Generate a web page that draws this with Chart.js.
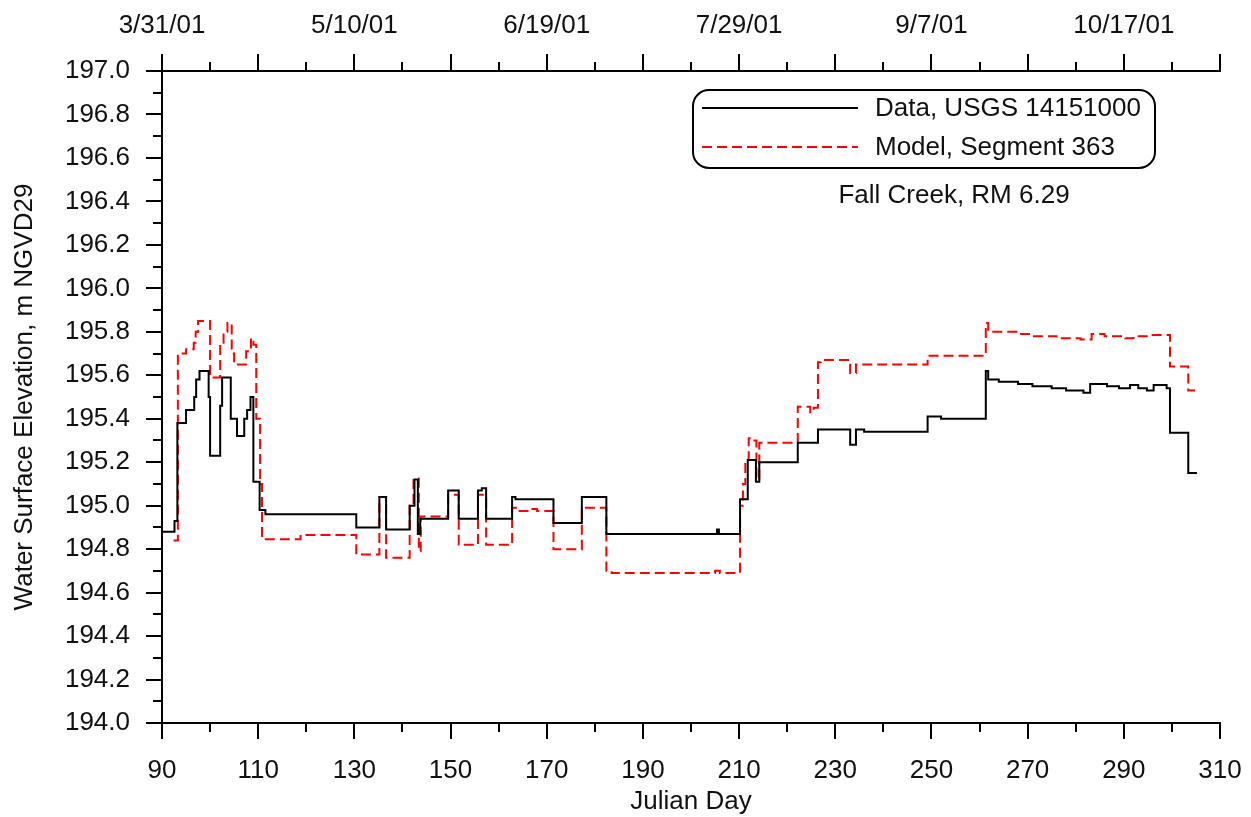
<!DOCTYPE html>
<html>
<head>
<meta charset="utf-8">
<script src="https://cdn.jsdelivr.net/npm/chart.js@4"></script>
<style>
  html, body { margin: 0; padding: 0; background: #fff; }
  #wrap { width: 1251px; height: 817px; }
</style>
</head>
<body>
<div id="wrap"><canvas id="c" width="1251" height="817"></canvas></div>
<script>
// ---------- DATA ----------
const dataDays = [90, 92.6, 93.2, 95.0, 96.7, 97.1, 97.8, 99.7, 100.0, 102.1, 102.5, 104.3, 105.6, 107.1, 107.7, 108.4, 109.0, 110.3, 111.5,
  130.4, 135.2, 136.6, 141.5, 142.5, 143.2, 143.7, 149.5, 151.7, 155.7, 156.5, 157.4, 162.8, 163.5, 171.4, 177.3, 182.4,
  205.4, 205.8, 210.2, 211.8, 213.5, 214.2, 222.2, 226.4, 233.1, 234.3, 236, 249.2, 252, 261.3, 261.8, 264, 268, 271, 275, 278,
  281.6, 283, 286.5, 289, 291.3, 293, 294.8, 296.2, 298.9, 299.6, 303.4, 305.2];
const dataElev = [194.88, 194.93, 195.38, 195.44, 195.50, 195.58, 195.62, 195.50, 195.23, 195.46, 195.59, 195.40, 195.32, 195.40, 195.44, 195.50, 195.11, 194.98, 194.96,
  194.90, 195.04, 194.89, 195.00, 195.12, 194.87, 194.94, 195.07, 194.94, 195.07, 195.08, 194.94, 195.04, 195.03, 194.92, 195.04, 194.87,
  194.89, 194.87, 195.03, 195.21, 195.11, 195.20, 195.29, 195.35, 195.28, 195.35, 195.34, 195.41, 195.40, 195.62, 195.58, 195.57, 195.56, 195.55, 195.54, 195.53,
  195.52, 195.56, 195.55, 195.54, 195.555, 195.54, 195.53, 195.555, 195.54, 195.335, 195.15, 195.15];

const modelDays = [92.4, 93.3, 95.0, 96.6, 97.0, 97.5, 99.7, 100.0, 102.1, 102.8, 103.6, 104.5, 105.0, 107.5, 108.5, 109.0, 109.6, 110.4, 110.8,
  118.8, 130.4, 135.2, 136.6, 141.5, 142.3, 143.4, 143.8, 149.5, 151.7, 155.7, 157.4, 162.8, 164, 166, 168, 171.4, 177.3, 182.4, 183.5,
  205, 206, 210.2, 210.8, 211.3, 212.0, 212.5, 213.6, 214.2, 222.2, 224.8, 225.5, 226.4, 227, 233.1, 234.3, 249.2, 261.3, 261.8,
  268, 271, 276, 281, 283.3, 286, 290.3, 292, 295.5, 299.6, 303.4, 304.8];
const modelElev = [194.84, 195.70, 195.72, 195.75, 195.80, 195.85, 195.85, 195.59, 195.75, 195.80, 195.84, 195.70, 195.65, 195.71, 195.77, 195.74, 195.40, 195.10, 194.845,
  194.865, 194.775, 195.04, 194.76, 195.00, 195.125, 194.79, 194.95, 195.05, 194.82, 195.05, 194.82, 194.99, 194.975, 194.985, 194.975, 194.80, 194.99, 194.70, 194.69,
  194.70, 194.69, 195.00, 195.10, 195.20, 195.31, 195.30, 195.12, 195.29, 195.455, 195.43, 195.45, 195.66, 195.67, 195.61, 195.65, 195.69, 195.84, 195.80,
  195.79, 195.78, 195.77, 195.765, 195.79, 195.78, 195.77, 195.78, 195.785, 195.64, 195.53, 195.53];

const bottomTicks = [90, 110, 130, 150, 170, 190, 210, 230, 250, 270, 290, 310];
const topTickDays = [90, 130, 170, 210, 250, 290];
const topTickLabels = ['3/31/01', '5/10/01', '6/19/01', '7/29/01', '9/7/01', '10/17/01'];
const yTicks = [194.0, 194.2, 194.4, 194.6, 194.8, 195.0, 195.2, 195.4, 195.6, 195.8, 196.0, 196.2, 196.4, 196.6, 196.8, 197.0];
const seriesNames = ['Data, USGS 14151000', 'Model, Segment 363'];
const noteText = 'Fall Creek, RM 6.29';

// ---------- CHART ----------
const FONT = "'Liberation Sans', Arial, sans-serif";
const font = { family: FONT, size: 26 };
const INK = '#111';

const axesPlugin = {
  id: 'axesPlugin',
  afterDraw(chart) {
    const { ctx, chartArea: a, scales } = chart;
    ctx.save();
    ctx.strokeStyle = '#000';
    ctx.lineWidth = 2;
    ctx.lineCap = 'butt';
    ctx.beginPath();
    ctx.moveTo(a.left, a.top); ctx.lineTo(a.left, a.bottom);
    ctx.moveTo(a.left - 1, a.bottom); ctx.lineTo(a.right + 1, a.bottom);
    ctx.moveTo(a.left - 1, a.top); ctx.lineTo(a.right + 1, a.top);
    for (let d = 90; d <= 310; d += 10) {
      const px = Math.round(scales.x.getPixelForValue(d));
      const major = ((d - 90) % 20) === 0;
      ctx.moveTo(px, a.bottom); ctx.lineTo(px, a.bottom + (major ? 16 : 9));
      ctx.moveTo(px, a.top); ctx.lineTo(px, a.top - (major ? 17 : 9));
    }
    for (let i = 0; i <= 30; i++) {
      const v = 194 + i * 0.1;
      const py = Math.round(scales.y.getPixelForValue(v));
      ctx.moveTo(a.left, py); ctx.lineTo(a.left - ((i % 2 === 0) ? 16 : 9), py);
    }
    ctx.stroke();
    ctx.restore();
  }
};

const legendPlugin = {
  id: 'legendPlugin',
  afterDraw(chart) {
    const { ctx } = chart;
    const ds = chart.data.datasets;
    ctx.save();
    ctx.beginPath();
    ctx.roundRect(693, 90, 462, 78, 16);
    ctx.lineWidth = 2;
    ctx.strokeStyle = '#000';
    ctx.stroke();
    const rows = [108, 147];
    ds.forEach((d, i) => {
      ctx.beginPath();
      ctx.setLineDash(d.borderDash || []);
      ctx.strokeStyle = d.borderColor;
      ctx.lineWidth = 2;
      ctx.moveTo(702, rows[i]); ctx.lineTo(858, rows[i]);
      ctx.stroke();
      ctx.setLineDash([]);
      ctx.fillStyle = INK;
      ctx.font = `26px ${FONT}`;
      ctx.textBaseline = 'middle';
      ctx.textAlign = 'left';
      ctx.fillText(d.label, 875, rows[i] + 1);
    });
    ctx.textAlign = 'center';
    ctx.fillText(noteText, 954, 196);
    ctx.restore();
  }
};

new Chart(document.getElementById('c'), {
  type: 'line',
  data: {
    datasets: [
      {
        label: seriesNames[0],
        data: dataDays.map((d, i) => ({ x: d, y: dataElev[i] })),
        borderColor: '#000', borderWidth: 2, pointRadius: 0, stepped: 'before', fill: false
      },
      {
        label: seriesNames[1],
        data: modelDays.map((d, i) => ({ x: d, y: modelElev[i] })),
        borderColor: '#ff0000', borderWidth: 2, borderDash: [10, 5], pointRadius: 0, stepped: 'before', fill: false
      }
    ]
  },
  options: {
    responsive: false,
    animation: false,
    devicePixelRatio: 1,
    layout: { padding: { left: 0, right: 31, top: 0, bottom: 0 } },
    plugins: { legend: { display: false }, tooltip: { enabled: false } },
    scales: {
      x: {
        type: 'linear', position: 'bottom', min: 90, max: 310,
        afterBuildTicks: s => { s.ticks = bottomTicks.map(v => ({ value: v })); },
        afterFit: s => { s.height = 94; s.paddingLeft = 0; s.paddingRight = 0; },
        grid: { display: false }, border: { display: false },
        ticks: { font, color: INK, padding: 24, maxRotation: 0, autoSkip: false, callback: v => String(v) },
        title: { display: true, text: 'Julian Day', font, color: INK, padding: { top: 1, bottom: 0 } }
      },
      x2: {
        type: 'linear', position: 'top', min: 90, max: 310,
        afterBuildTicks: s => { s.ticks = topTickDays.map(v => ({ value: v })); },
        afterFit: s => { s.height = 71; s.paddingLeft = 0; s.paddingRight = 0; },
        grid: { display: false }, border: { display: false },
        ticks: { font, color: INK, padding: 22, maxRotation: 0, autoSkip: false,
          callback: (v, i) => topTickLabels[i] }
      },
      y: {
        type: 'linear', position: 'left', min: 194, max: 197,
        afterBuildTicks: s => { s.ticks = yTicks.map(v => ({ value: v })); },
        afterFit: s => { s.width = 162; s.paddingTop = 0; s.paddingBottom = 0; },
        grid: { display: false }, border: { display: false },
        ticks: { font, color: INK, padding: 24, autoSkip: false, callback: v => Number(v).toFixed(1) },
        title: { display: true, text: 'Water Surface Elevation, m NGVD29', font, color: INK, padding: { top: 9, bottom: 0 } }
      }
    }
  },
  plugins: [axesPlugin, legendPlugin]
});
</script>
</body>
</html>
